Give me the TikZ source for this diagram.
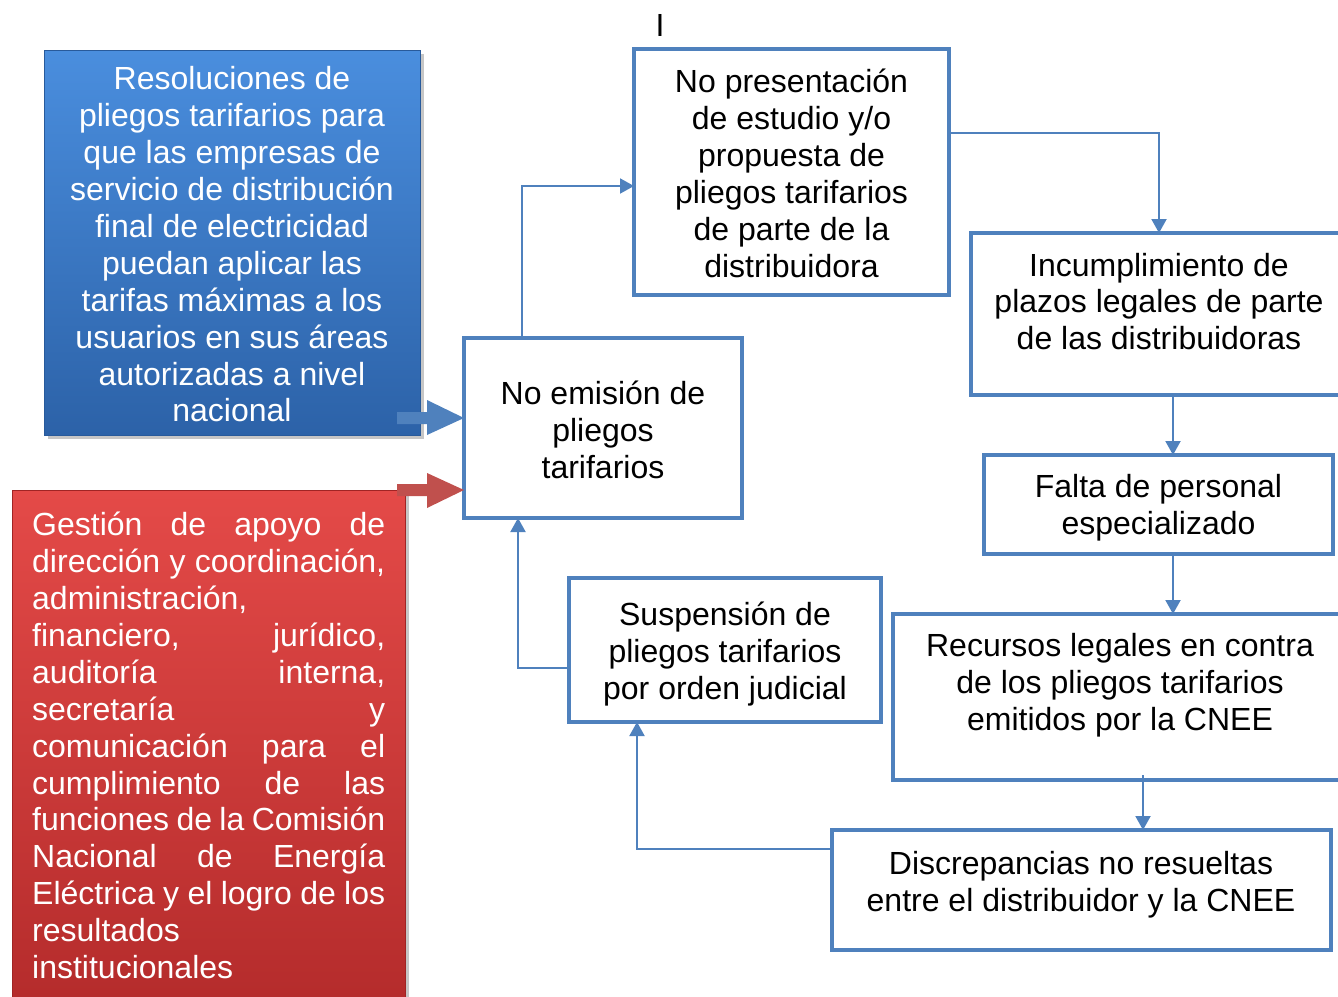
\documentclass[tikz,border=0pt]{standalone}
\usepackage{fontspec}
\setmainfont{Liberation Sans}
\usetikzlibrary{arrows.meta,shadows,calc}
\definecolor{bord}{HTML}{4F81BD}
\definecolor{bluetop}{RGB}{74,142,222}
\definecolor{bluebot}{RGB}{44,98,168}
\definecolor{blueedge}{RGB}{40,90,155}
\definecolor{redtop}{RGB}{228,74,72}
\definecolor{redbot}{RGB}{178,42,42}
\definecolor{rededge}{RGB}{160,36,36}
\definecolor{barblue}{HTML}{4F81BD}
\definecolor{barred}{HTML}{C0504D}
\begin{document}
\begin{tikzpicture}[x=1pt,y=-1pt,
  box/.style={draw=bord, line width=4pt, fill=white, inner sep=0pt, outer sep=0pt},
  txt/.style={font=\fontsize{32}{36.9}\selectfont, align=center, inner sep=0pt},
  conn/.style={draw=bord, line width=2pt, -{Triangle[width=15pt,length=14pt]}},
  shadebox/.style={inner sep=0pt, outer sep=0pt, shading=axis, line width=1pt,
    drop shadow={shadow xshift=4pt, shadow yshift=-4pt, opacity=0.45}},
]
\useasboundingbox (0,0) rectangle (1338,996);
\clip (0,0) rectangle (1338,996);

% left coloured boxes
\node[shadebox, top color=bluetop, bottom color=bluebot, draw=blueedge,
  minimum width=376pt, minimum height=385pt] (resol) at (232,242.5) {};
\node[txt, text=white] (resolT) at (232,244.5)
  {Resoluciones de\\ pliegos tarifarios para\\ que las empresas de\\ servicio de distribución\\
   final de electricidad\\ puedan aplicar las\\ tarifas máximas a los\\ usuarios en sus áreas\\
   autorizadas a nivel\\ nacional};

\node[shadebox, top color=redtop, bottom color=redbot, draw=rededge,
  minimum width=393pt, minimum height=540pt, anchor=north west] (gestion) at (12,490) {};
\node[txt, anchor=north west, align=left, text=white] (gestionT) at (32,512)
  {\makebox[353pt][s]{Gestión de apoyo de}\\
   \makebox[353pt][s]{dirección y coordinación,}\\
   administración,\\
   \makebox[353pt][s]{financiero, jurídico,}\\
   \makebox[353pt][s]{auditoría interna,}\\
   \makebox[353pt][s]{secretaría y}\\
   \makebox[353pt][s]{comunicación para el}\\
   \makebox[353pt][s]{cumplimiento de las}\\
   \makebox[353pt][s]{funciones de la Comisión}\\
   \makebox[353pt][s]{Nacional de Energía}\\
   \makebox[353pt][s]{Eléctrica y el logro de los}\\
   resultados\\
   institucionales};

% flow boxes
\node[box, minimum width=278pt, minimum height=180pt] (emision) at (603,428) {};
\node[txt] (emisionT) at (603,429.5) {No emisión de\\ pliegos\\ tarifarios};
\node[box, minimum width=315pt, minimum height=246pt] (presentacion) at (791.5,172) {};
\node[txt] (presentacionT) at (791.5,173.5)
  {No presentación\\ de estudio y/o\\ propuesta de\\ pliegos tarifarios\\ de parte de la\\ distribuidora};
\node[box, minimum width=376pt, minimum height=162pt] (incumplimiento) at (1159,314) {};
\node[txt] (incumplimientoT) at (1159,301.5)
  {Incumplimiento de\\ plazos legales de parte\\ de las distribuidoras};
\node[box, minimum width=349pt, minimum height=99pt] (falta) at (1158.5,504.5) {};
\node[txt] (faltaT) at (1158.5,508) {Falta de personal\\ especializado};
\node[box, minimum width=454pt, minimum height=166pt] (recursos) at (1120,697) {};
\node[txt] (recursosT) at (1120,685)
  {Recursos legales en contra\\ de los pliegos tarifarios\\ emitidos por la CNEE};
\node[box, minimum width=499pt, minimum height=120pt] (discrepancias) at (1081.5,890) {};
\node[txt] (discrepanciasT) at (1081,885)
  {Discrepancias no resueltas\\ entre el distribuidor y la CNEE};
\node[box, minimum width=312pt, minimum height=144pt] (suspension) at (725,650) {};
\node[txt] (suspensionT) at (725,654)
  {Suspensión de\\ pliegos tarifarios\\ por orden judicial};

\node[txt] (cursor) at (660,25) {I};

% block arrows into "No emisión"
\coordinate (btip) at ([yshift=10pt]emision.west);
\coordinate (rtip) at ([yshift=-62pt]emision.west);
\fill[barblue] ($(btip)+(-67,-6)$) -- ($(btip)+(-37,-6)$) -- ($(btip)+(-37,-18)$) -- (btip)
  -- ($(btip)+(-37,17)$) -- ($(btip)+(-37,6)$) -- ($(btip)+(-67,6)$) -- cycle;
\fill[barred] ($(rtip)+(-67,-6)$) -- ($(rtip)+(-37,-6)$) -- ($(rtip)+(-37,-17)$) -- (rtip)
  -- ($(rtip)+(-37,18)$) -- ($(rtip)+(-37,6)$) -- ($(rtip)+(-67,6)$) -- cycle;

% connectors
\draw[conn] ([xshift=-81pt]emision.north) |- ([yshift=-14pt]presentacion.west);
\draw[conn] ([yshift=39pt]presentacion.east) -| (incumplimiento.north);
\draw[conn] ([xshift=14pt]incumplimiento.south) -- ([xshift=14pt]incumplimiento.south |- falta.north);
\draw[conn] ([xshift=14.5pt]falta.south) -- ([xshift=14.5pt]falta.south |- recursos.north);
\draw[conn] ([xshift=23pt,yshift=5pt]recursos.south) -- ([xshift=23pt]recursos.south |- discrepancias.north);
\draw[conn] ([yshift=41pt]discrepancias.west) -| ([xshift=-88pt]suspension.south);
\draw[conn] ([yshift=-18pt]suspension.west) -| ([xshift=-85pt]emision.south);
\end{tikzpicture}
\end{document}
